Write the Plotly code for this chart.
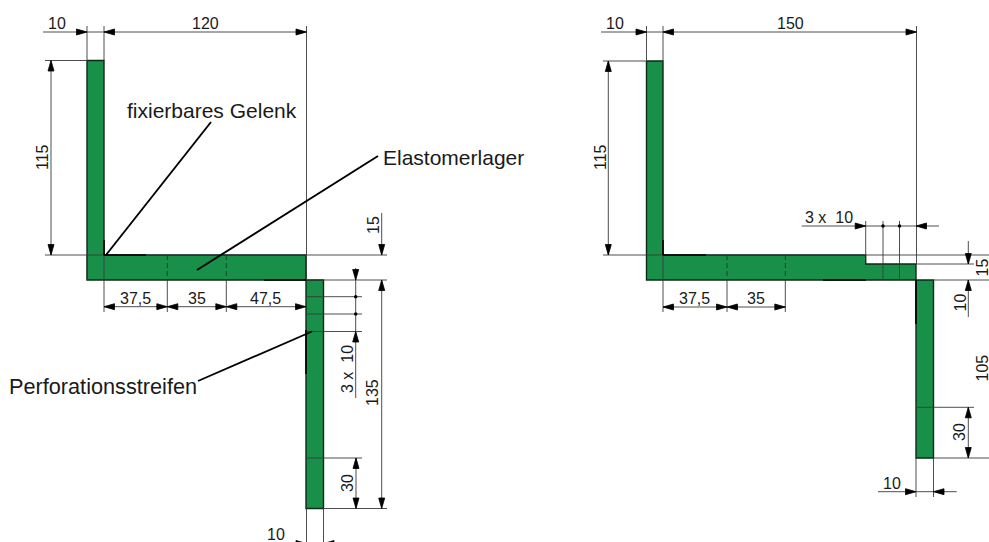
import plotly.graph_objects as go

SHEET_W, SHEET_H = 989, 542
GREEN = "#18904A"
INK = "#000000"
THIN = "#3a3a3a"

# Profile outlines, in sheet coordinates
left_profile_x = [87, 104, 104, 306, 306, 323.5, 323.5, 306, 306, 87, 87]
left_profile_y = [60.5, 60.5, 255, 255, 280, 280, 508.5, 508.5, 280, 280, 60.5]
right_profile_x = [646.5, 663, 663, 865.7, 865.7, 916, 916, 933.5, 933.5, 916, 916, 646.5, 646.5]
right_profile_y = [61, 61, 255, 255, 264, 264, 280, 280, 458, 458, 280, 280, 61]

# Thin construction and dimension lines: (x0, y0, x1, y1)
thin_lines = [
    # left drawing
    (43, 32, 306.5, 32), (87, 26, 87, 60.5), (104, 26, 104, 60.5), (306.5, 26, 306.5, 280),
    (45, 60.5, 87, 60.5), (51, 60.5, 51, 255), (45, 255, 387, 255), (306, 280, 387, 280),
    (104, 255, 104, 312), (167.3, 280, 167.3, 312), (226.3, 280, 226.3, 312),
    (104, 306.7, 306, 306.7), (87, 255, 87, 280),
    (381.7, 213, 381.7, 255), (381.7, 280, 381.7, 508.5),
    (355.7, 268, 355.7, 398), (356, 458, 356, 508.5),
    (306, 296.7, 362, 296.7), (306, 314, 362, 314), (306, 331.5, 362, 331.5),
    (306, 458, 362, 458), (323.5, 508.5, 387, 508.5),
    (306.5, 508.5, 306.5, 542), (323.5, 508.5, 323.5, 542), (262, 543.5, 345, 543.5),
    # right drawing
    (601, 32, 916.5, 32), (646.5, 26, 646.5, 61), (663, 26, 663, 61), (916.5, 26, 916.5, 264),
    (603, 61, 646.5, 61), (608.3, 61, 608.3, 255), (603, 255, 865.7, 255),
    (663, 255, 663, 312), (727, 280, 727, 312), (785.3, 280, 785.3, 312), (663, 307, 785.3, 307),
    (801.7, 226, 939, 226), (865.7, 221, 865.7, 255), (883, 221, 883, 280),
    (899.5, 221, 899.5, 280), (865.7, 255, 989, 255), (916, 264, 974, 264), (933.5, 280, 989, 280),
    (968.3, 241, 968.3, 264), (968.3, 280, 968.3, 317),
    (916, 407.3, 974, 407.3), (933.5, 458, 989, 458), (968.3, 407.3, 968.3, 458),
    (916, 458, 916, 497), (933.5, 458, 933.5, 497), (878, 491.7, 956.7, 491.7),
]

# Dashed section marks across the horizontal legs
dash_lines = [(167.3, 255, 167.3, 280), (226.3, 255, 226.3, 280), (727, 255, 727, 280), (785.3, 255, 785.3, 280)]

# Heavier edge strokes and leaders
heavy_lines = [
    (104, 240, 104, 255), (104, 255, 146, 255), (264, 280, 306, 280), (306, 330, 306, 374),
    (663, 240, 663, 255), (663, 255, 706, 255), (823, 280, 866, 280), (916, 280, 916, 324),
]
leaders = [
    (211, 122, 106, 255), (378, 156, 197, 270), (198, 381, 312, 331.5),
]

# Arrowheads: tip x, tip y, pointing direction
arrows = [
    (87, 32, "R"), (104, 32, "L"), (306.5, 32, "R"), (51, 60.5, "U"), (51, 255, "D"),
    (381.7, 255, "D"), (381.7, 280, "U"), (381.7, 508.5, "D"),
    (355.7, 280, "D"), (355.7, 331.5, "U"), (356, 458, "U"), (356, 508.5, "D"),
    (104, 306.7, "L"), (167.3, 306.7, "R"), (167.3, 306.7, "L"), (226.3, 306.7, "R"),
    (226.3, 306.7, "L"), (306, 306.7, "R"), (306.5, 543.5, "R"), (323.5, 543.5, "L"),
    (646.5, 32, "R"), (663, 32, "L"), (916.5, 32, "R"), (608.3, 61, "U"), (608.3, 255, "D"),
    (663, 307, "L"), (727, 307, "R"), (727, 307, "L"), (785.3, 307, "R"),
    (865.7, 226, "R"), (916, 226, "L"), (968.3, 264, "D"), (968.3, 280, "U"),
    (968.3, 407.3, "U"), (968.3, 458, "D"), (916, 491.7, "R"), (933.5, 491.7, "L"),
]
dot_x = [355.7, 355.7, 883, 899.5]
dot_y = [296.7, 314, 226, 226]

# Text labels: text, x, y, angle, font size
labels = [
    ("10", 57, 23, 0, 16), ("120", 205, 23, 0, 16), ("115", 42, 157, -90, 16),
    ("fixierbares Gelenk", 211.5, 110, 0, 21), ("Elastomerlager", 453.5, 157, 0, 21),
    ("Perforationsstreifen", 102.5, 386, 0, 21.7),
    ("37,5", 135.3, 298, 0, 16), ("35", 196.7, 298, 0, 16), ("47,5", 265.7, 298, 0, 16),
    ("15", 373, 225, -90, 16), ("135", 372, 393, -90, 16), ("3 x  10", 347, 369, -90, 16),
    ("30", 347, 483, -90, 16), ("10", 276, 534, 0, 16),
    ("10", 615, 23, 0, 16), ("150", 790, 23, 0, 16), ("115", 600, 157, -90, 16),
    ("37,5", 694.7, 298, 0, 16), ("35", 755.7, 298, 0, 16),
    ("3 x  10", 829, 217, 0, 16), ("15", 982, 267.5, -90, 16), ("10", 959.5, 303, -90, 16),
    ("105", 982, 368.5, -90, 16), ("30", 959, 432, -90, 16), ("10", 892, 483, 0, 16),
]


def seg_xy(segs):
    xs, ys = [], []
    for x0, y0, x1, y1 in segs:
        xs += [x0, x1, None]
        ys += [y0, y1, None]
    return xs, ys


def head_xy(items, length=10.5, half=3.0):
    vec = {"R": (1, 0), "L": (-1, 0), "D": (0, 1), "U": (0, -1)}
    xs, ys = [], []
    for x, y, d in items:
        dx, dy = vec[d]
        bx, by = x - dx * length, y - dy * length
        xs += [x, bx - dy * half, bx + dy * half, x, None]
        ys += [y, by - dx * half, by + dx * half, y, None]
    return xs, ys


fig = go.Figure()
for px, py in ((left_profile_x, left_profile_y), (right_profile_x, right_profile_y)):
    fig.add_trace(go.Scatter(x=px, y=py, mode="lines", fill="toself", fillcolor=GREEN,
                             line=dict(color="#0b2a16", width=1.4), hoverinfo="skip"))
x, y = seg_xy(thin_lines)
fig.add_trace(go.Scatter(x=x, y=y, mode="lines", line=dict(color=THIN, width=0.9), hoverinfo="skip"))
x, y = seg_xy(dash_lines)
fig.add_trace(go.Scatter(x=x, y=y, mode="lines", line=dict(color="#1c3a26", width=0.9, dash="5px,3px"), hoverinfo="skip"))
x, y = seg_xy(heavy_lines)
fig.add_trace(go.Scatter(x=x, y=y, mode="lines", line=dict(color=INK, width=1.6), hoverinfo="skip"))
x, y = seg_xy(leaders)
fig.add_trace(go.Scatter(x=x, y=y, mode="lines", line=dict(color=INK, width=1.9), hoverinfo="skip"))
# Each arrowhead is its own trace so the filled triangle survives line simplification.
for item in arrows:
    x, y = head_xy([item])
    fig.add_trace(go.Scatter(x=x[:-1], y=y[:-1], mode="lines", fill="toself", fillcolor=INK,
                             line=dict(color=INK, width=0.8, simplify=False), hoverinfo="skip"))
fig.add_trace(go.Scatter(x=dot_x, y=dot_y, mode="markers",
                         marker=dict(color=INK, size=3.5), hoverinfo="skip"))

for text, tx, ty, angle, size in labels:
    fig.add_annotation(x=tx, y=ty, text=text, showarrow=False, textangle=angle,
                       xanchor="center", yanchor="middle",
                       font=dict(family="Liberation Sans", size=size, color="#1a1a1a"))

fig.update_layout(
    width=SHEET_W, height=SHEET_H, autosize=False,
    margin=dict(l=0, r=0, t=0, b=0), showlegend=False,
    paper_bgcolor="white", plot_bgcolor="white",
    xaxis=dict(range=[0, SHEET_W], visible=False, fixedrange=True),
    yaxis=dict(range=[SHEET_H, 0], visible=False, fixedrange=True),
)
fig.write_html("out.html", config={"displayModeBar": False},
               post_script="document.body.style.margin='0';document.documentElement.style.overflow='hidden';")
